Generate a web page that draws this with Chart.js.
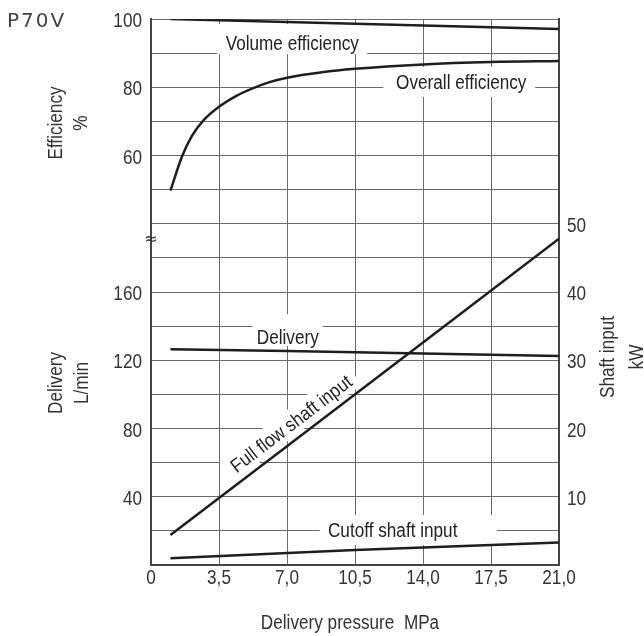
<!DOCTYPE html>
<html>
<head>
<meta charset="utf-8">
<script src="https://cdn.jsdelivr.net/npm/chart.js@4.4.1/dist/chart.umd.min.js"></script>
<style>
  html, body { margin: 0; padding: 0; background: #fff; }
  canvas { display: block; }
</style>
</head>
<body>
<canvas id="chart" width="644" height="636"></canvas>
<script>
// P70V performance curves

const FONT = "19.5px 'Liberation Sans', Arial, sans-serif";
const NARROW = 0.88;          // condensed look for all texts
const INK = '#1e1e1e';
const TEXT = '#333';

// axis ticks
const xTicks = [0, 3.5, 7, 10.5, 14, 17.5, 21];
const effTicks = [60, 80, 100];
const deliveryTicks = [40, 80, 120, 160];
const shaftTicks = [10, 20, 30, 40, 50];

// efficiency %
const volPressure = [1, 7, 14, 21];
const volEff = [100, 99.1, 98.1, 97.1];

const overallPressure = [1, 1.6, 2.1, 2.7, 3.5, 4.4, 5.2, 6.1, 7, 8.8, 10.5, 14, 17.5, 21];
const overallEff = [49.7, 59.8, 65.7, 70.3, 74.3, 77.5, 79.6, 81.5, 82.8, 84.4, 85.4, 86.7, 87.4, 87.7];

// delivery L/min
const delivPressure = [1, 7, 14, 21];
const delivery = [126.4, 125.4, 124.0, 122.5];

// shaft input kW
const fullPressure = [1, 7, 14, 21];
const fullShaft = [4.4, 17.4, 32.6, 47.8];

const cutPressure = [1, 10.5, 21];
const cutShaft = [1.0, 2.2, 3.3];

// efficiency 50% sits one grid row above delivery 200 L/min (broken axis)
const effToDelivery = e => 220 + (e - 50) * 2;

const pts = (xs, ys) => xs.map((x, i) => ({ x, y: ys[i] }));

// curve labels: anchor in (MPa, L/min scale), white box around text in px
const curveLabels = [
  { text: 'Volume efficiency', x: 7.27, y: 305.9, box: [-75, 75, -19, 11] },
  { text: 'Overall efficiency', x: 15.97, y: 283.1, box: [-78, 74, -15, 15] },
  { text: 'Delivery', x: 7.04, y: 133.6, box: [-35, 35, -23, 9] },
  { text: 'Cutoff shaft input', x: 12.44, y: 20.5, box: [-73, 104, -15, 15] },
  { text: 'Full flow shaft input', x: 7.2, y: 83, box: [-80, 80, -13, 12], alongFull: true }
];

function narrowText(ctx, text, x, y, align) {
  ctx.save();
  ctx.translate(x, y);
  ctx.scale(NARROW, 1);
  ctx.textAlign = align;
  ctx.textBaseline = 'alphabetic';
  ctx.fillText(text, 0, 0);
  ctx.restore();
}

const curveLabelPlugin = {
  id: 'curveLabels',
  beforeDatasetsDraw(chart) {
    const { ctx, scales } = chart;
    const sx = scales.x, sy = scales.yDel, sk = scales.yKw;
    ctx.save();
    ctx.font = FONT;
    curveLabels.forEach(l => {
      ctx.save();
      ctx.translate(sx.getPixelForValue(l.x), sy.getPixelForValue(l.y));
      if (l.alongFull) {
        const n = fullPressure.length - 1;
        const dx = sx.getPixelForValue(fullPressure[n]) - sx.getPixelForValue(fullPressure[0]);
        const dy = sk.getPixelForValue(fullShaft[n]) - sk.getPixelForValue(fullShaft[0]);
        ctx.rotate(Math.atan2(dy, dx));
      }
      const [x0, x1, y0, y1] = l.box;
      ctx.fillStyle = '#fff';
      ctx.fillRect(x0, y0, x1 - x0, y1 - y0);
      ctx.fillStyle = '#222';
      narrowText(ctx, l.text, 0, 7, 'center');
      ctx.restore();
    });
    ctx.restore();
  },
  afterDraw(chart) {
    const { ctx, scales, chartArea } = chart;
    const sx = scales.x, sy = scales.yDel, sk = scales.yKw;
    ctx.save();
    ctx.fillStyle = TEXT;
    ctx.font = FONT;

    // tick labels
    xTicks.forEach(v => {
      const t = v === 0 ? '0' : v.toFixed(1).replace('.', ',');
      narrowText(ctx, t, sx.getPixelForValue(v), 584, 'center');
    });
    deliveryTicks.forEach(v => narrowText(ctx, String(v), chartArea.left - 9, sy.getPixelForValue(v) + 8, 'right'));
    effTicks.forEach(v => narrowText(ctx, String(v), chartArea.left - 9, sy.getPixelForValue(effToDelivery(v)) + 8, 'right'));
    shaftTicks.forEach(v => narrowText(ctx, String(v), chartArea.right + 8, sk.getPixelForValue(v) + 8, 'left'));

    // axis titles
    const vTitle = (cy, l1, l2, b1, b2) => {
      ctx.save();
      ctx.translate(0, cy);
      ctx.rotate(-Math.PI / 2);
      narrowText(ctx, l1, 0, b1, 'center');
      narrowText(ctx, l2, 0, b2, 'center');
      ctx.restore();
    };
    vTitle(123, 'Efficiency', '%', 62, 87);
    vTitle(383, 'Delivery', 'L/min', 62, 88);
    vTitle(357, 'Shaft input', 'kW', 614, 643);
    narrowText(ctx, 'Delivery pressure  MPa', 350, 629, 'center');

    // model name
    ctx.font = "20px 'DejaVu Sans', sans-serif";
    ctx.fillStyle = '#444';
    ctx.textAlign = 'left';
    ctx.letterSpacing = '2px';
    ctx.fillText('P70V', 7, 27);
    ctx.letterSpacing = '0px';

    // axis break mark
    ctx.font = "16px 'DejaVu Sans', sans-serif";
    ctx.fillStyle = TEXT;
    ctx.textAlign = 'center';
    ctx.textBaseline = 'middle';
    ctx.fillText('\u2248', chartArea.left, sy.getPixelForValue(190.5));
    ctx.restore();
  }
};

const gridColor = '#6a6a6a';
const frameColor = '#444';

new Chart(document.getElementById('chart'), {
  type: 'line',
  data: {
    datasets: [
      { label: 'Volume efficiency', data: pts(volPressure, volEff), yAxisID: 'yEff' },
      { label: 'Overall efficiency', data: pts(overallPressure, overallEff), yAxisID: 'yEff', cubicInterpolationMode: 'monotone' },
      { label: 'Delivery', data: pts(delivPressure, delivery), yAxisID: 'yDel' },
      { label: 'Full flow shaft input', data: pts(fullPressure, fullShaft), yAxisID: 'yKw' },
      { label: 'Cutoff shaft input', data: pts(cutPressure, cutShaft), yAxisID: 'yKw' }
    ].map(d => Object.assign({
      borderColor: INK,
      borderWidth: 2.5,
      pointRadius: 0,
      fill: false,
      tension: 0
    }, d))
  },
  options: {
    responsive: false,
    devicePixelRatio: 1,
    animation: false,
    layout: { padding: { top: 19, left: 0, right: 0, bottom: 0 } },
    plugins: {
      legend: { display: false },
      tooltip: { enabled: false }
    },
    scales: {
      x: {
        type: 'linear',
        min: xTicks[0],
        max: xTicks[xTicks.length - 1],
        afterBuildTicks: s => { s.ticks = xTicks.map(v => ({ value: v })); },
        afterFit: s => { s.height = 71; },
        grid: { color: gridColor, lineWidth: 1, drawTicks: false },
        border: { color: frameColor, width: 2 },
        ticks: { display: false }
      },
      yDel: {
        type: 'linear',
        position: 'left',
        min: 0,
        max: 320,
        afterFit: s => { s.width = 151; },
        grid: { color: gridColor, lineWidth: 1, drawTicks: false },
        border: { color: frameColor, width: 2 },
        ticks: { stepSize: 20, display: false }
      },
      yEff: {
        type: 'linear',
        display: false,
        min: -60,
        max: 100
      },
      yKw: {
        type: 'linear',
        position: 'right',
        min: 0,
        max: 80,
        afterFit: s => { s.width = 85; },
        grid: { drawOnChartArea: false, drawTicks: false },
        border: { color: frameColor, width: 2 },
        ticks: { stepSize: 10, display: false }
      }
    }
  },
  plugins: [curveLabelPlugin]
});
</script>
</body>
</html>
